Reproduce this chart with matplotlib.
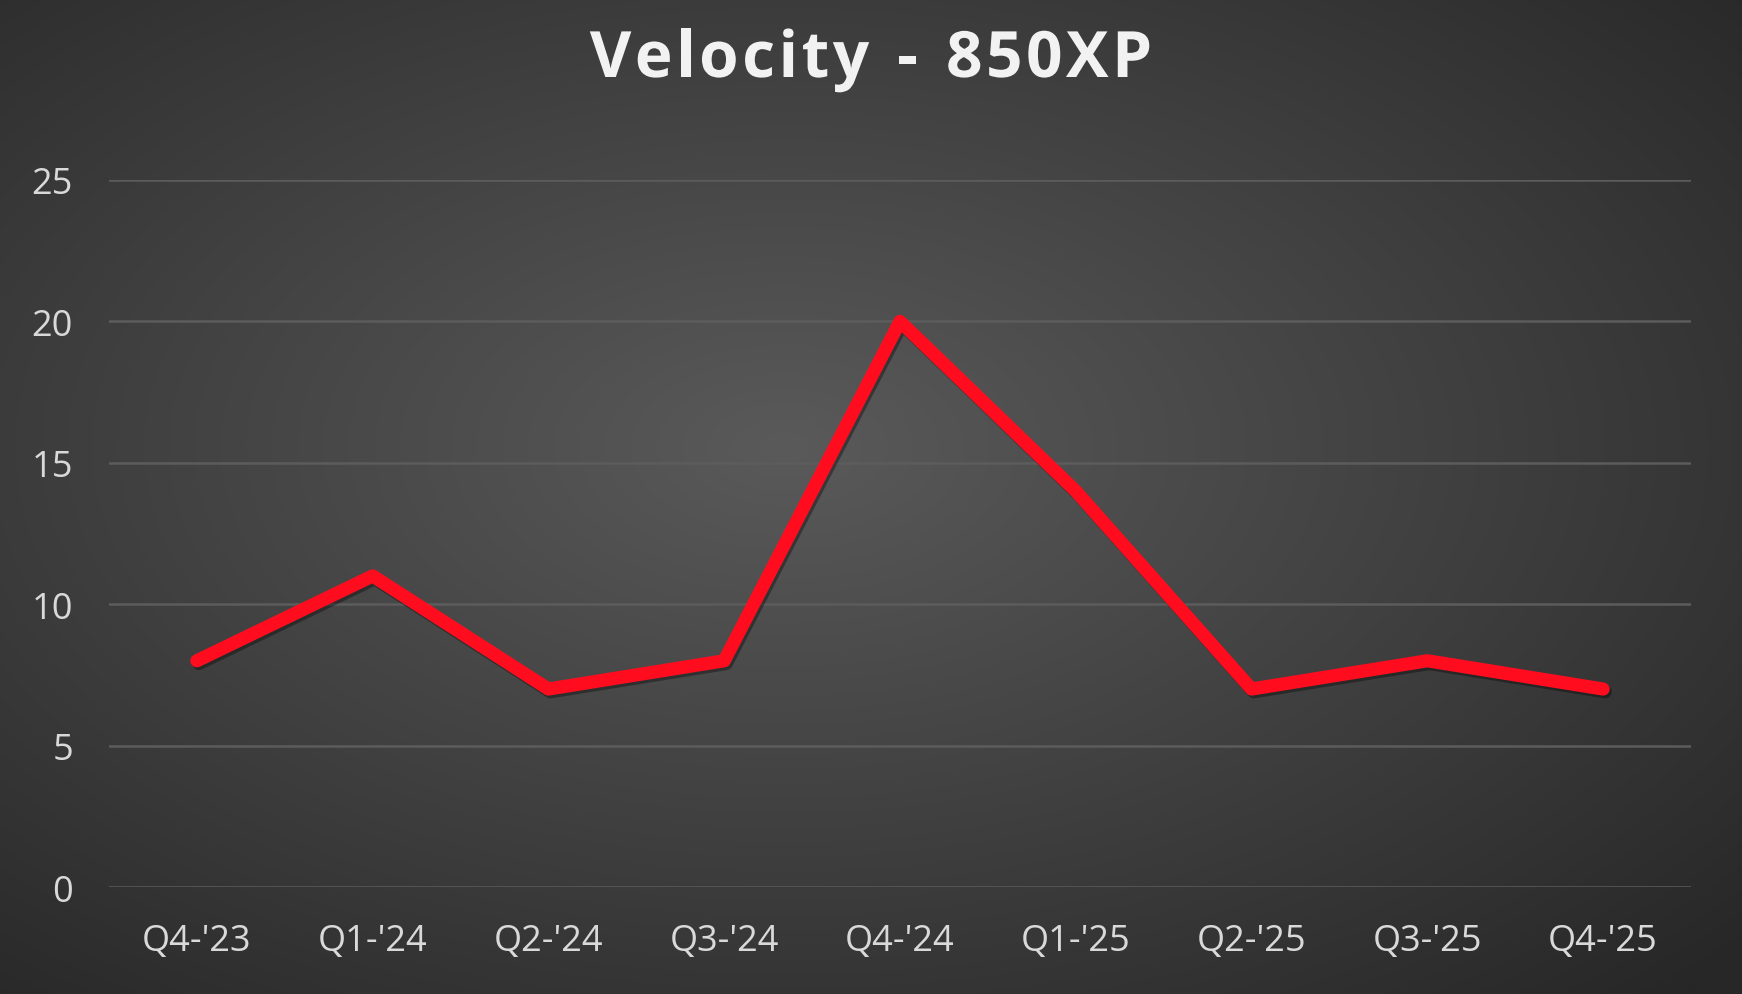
import numpy as np
import matplotlib.pyplot as plt
import matplotlib.patheffects as pe

quarters = ["Q4-'23", "Q1-'24", "Q2-'24", "Q3-'24", "Q4-'24",
            "Q1-'25", "Q2-'25", "Q3-'25", "Q4-'25"]
velocity = [8, 11, 7, 8, 20, 14, 7, 8, 7]
y_ticks = [0, 5, 10, 15, 20, 25]
title = 'Velocity - 850XP'

W, H, DPI = 1742, 995, 100
fig = plt.figure(figsize=(W / DPI, H / DPI), dpi=DPI)

# radial grey background
bg = fig.add_axes([0, 0, 1, 1])
yy, xx = np.mgrid[0:H, 0:W]
r = np.sqrt(((xx - 0.45 * W) / (0.75 * W)) ** 2 + ((yy - 0.45 * H) / (0.75 * H)) ** 2)
r = np.clip(r, 0, 1)
shade = 0x5a / 255 * (1 - r) + 0x27 / 255 * r
bg.imshow(np.dstack([shade] * 3), aspect='auto', extent=[0, 1, 0, 1])
bg.axis('off')

ax = fig.add_axes([109 / W, 1 - 888 / H, (1691 - 109) / W, (888 - 181) / H])
ax.patch.set_alpha(0)
x = np.arange(len(quarters))
ax.plot(x, velocity, color='#ff0d1f', lw=9.5, solid_capstyle='round', solid_joinstyle='round',
        zorder=3, path_effects=[pe.SimpleLineShadow(offset=(1.5, -2), alpha=0.35), pe.Normal()])

ax.set_xlim(-0.5, len(quarters) - 0.5)
ax.set_ylim(0, 25)
ax.set_yticks(y_ticks)
ax.set_xticks(x)
ax.set_xticklabels(quarters)
ax.grid(axis='y', color='#5c5c5c', lw=1.8)
ax.set_axisbelow(True)
for s in ax.spines.values():
    s.set_visible(False)
ax.tick_params(length=0, colors='#d9d9d9', labelsize=26)
ax.tick_params(axis='y', pad=26)
ax.tick_params(axis='x', pad=26)
for t in ax.get_xticklabels() + ax.get_yticklabels():
    t.set_fontfamily('Open Sans')

# title with wide letter spacing, drawn char by char
renderer = fig.canvas.get_renderer()
tkw = dict(fontsize=46, fontweight='bold', fontfamily='Open Sans', color='#f2f2f2',
           va='baseline', ha='left',
           path_effects=[pe.SimpleLineShadow(offset=(1.5, -2.5), alpha=0.45), pe.Normal()])
track = 3.5
widths = []
for ch in title:
    t = fig.text(0, 0, ch if ch != ' ' else 'a', **tkw)
    w = t.get_window_extent(renderer).width
    widths.append(w * 0.55 if ch == ' ' else w)
    t.remove()
total = sum(widths) + track * (len(title) - 1)
xpos = W / 2 - total / 2
for ch, w in zip(title, widths):
    if ch != ' ':
        fig.text(xpos / W, 1 - 78 / H, ch, **tkw)
    xpos += w + track

fig.savefig('out.png', dpi=DPI)
